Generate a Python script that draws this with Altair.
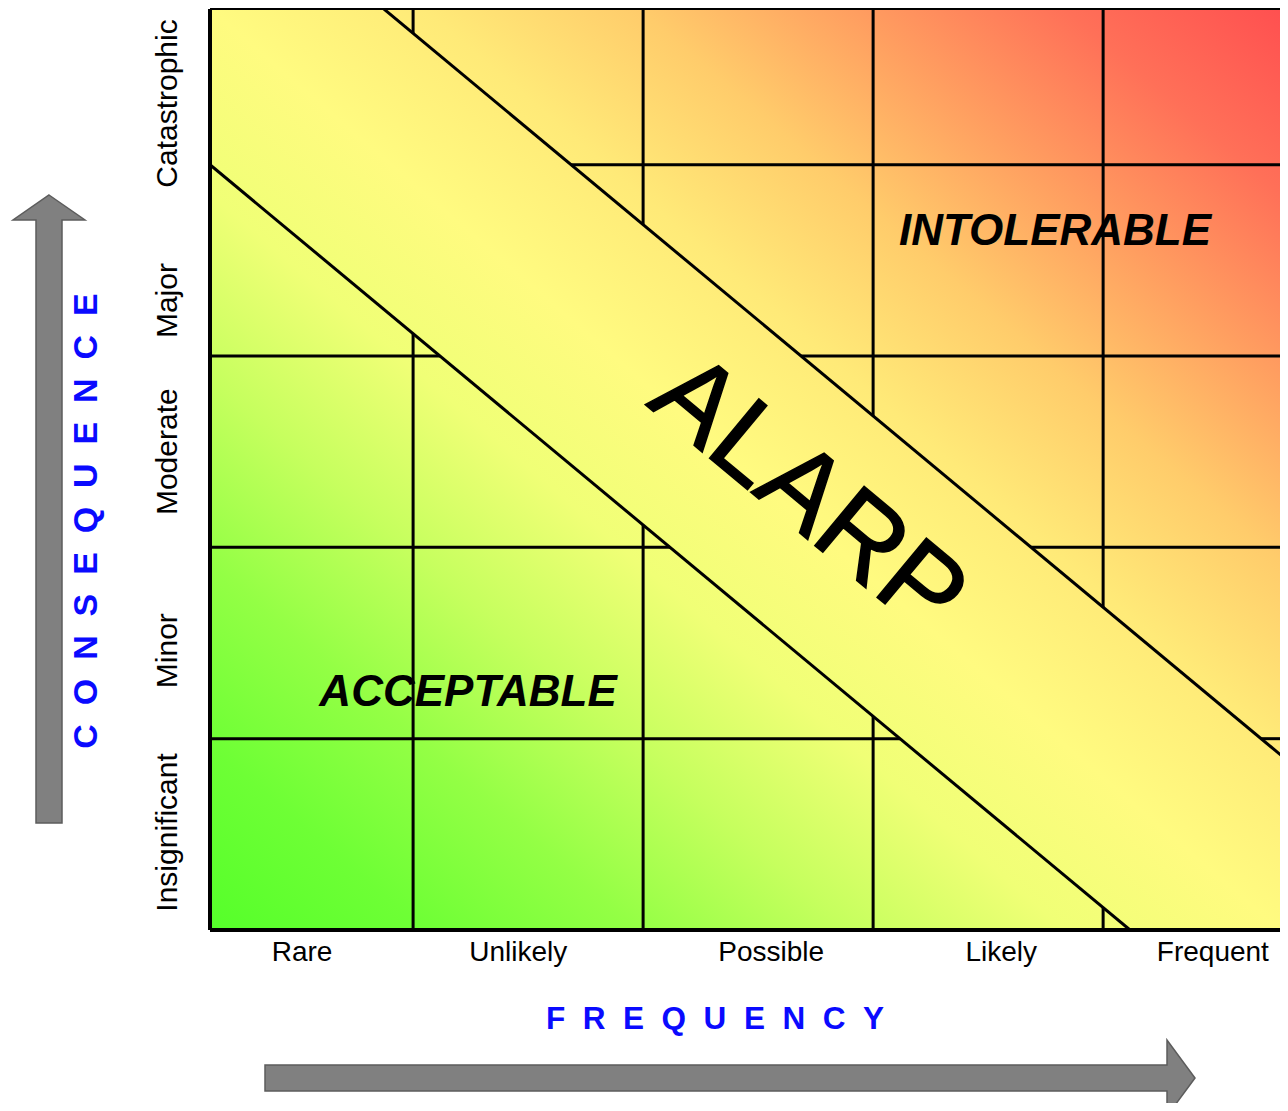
import altair as alt
import pandas as pd

# ---- data ----
frequency = ["Rare", "Unlikely", "Possible", "Likely", "Frequent"]
freq_label_pos = [0.40, 1.34, 2.44, 3.44, 4.36]
consequence = ["Insignificant", "Minor", "Moderate", "Major", "Catastrophic"]
cons_label_pos = [0.51, 1.46, 2.50, 3.29, 4.32]
col_lines = [0.883, 1.883, 2.883, 3.883]
row_lines = [1, 2, 3, 4]
x_max = 4.652
y_max = 4.814
band_lower = 4.0   # x + y = 4.0
band_upper = 5.57  # x + y = 5.57
zones = ["ACCEPTABLE", "INTOLERABLE"]
zone_x = [1.122, 3.674]
zone_y = [1.239, 3.649]
alarp_label = "ALARP"
alarp_x = [2.60]
alarp_y = [2.27]
grad_offsets = [0.0, 0.10, 0.20, 0.30, 0.40, 0.50, 0.60, 0.70, 0.80, 0.90, 1.0]
grad_colors = ["#55ff2a", "#6eff35", "#94ff45", "#c6ff5e", "#f0ff76", "#fffb80",
               "#ffea78", "#ffcc6b", "#ff9e60", "#ff7058", "#ff5050"]

FONT = "Liberation Sans"
xs = alt.Scale(domain=[0, x_max], nice=False, zero=False)
ys = alt.Scale(domain=[0, y_max], nice=False, zero=False)


def X(f):
    return alt.X(f, type="quantitative", scale=xs, axis=None)


def X2(f):
    return alt.X2(f)


def Y(f):
    return alt.Y(f, type="quantitative", scale=ys, axis=None)


# background gradient
bg_df = pd.DataFrame({"x": [0.0], "x2": [x_max], "y": [0.0], "y2": [y_max]})
bg = alt.Chart(bg_df).mark_rect(
    fill=alt.LinearGradient(
        gradient="linear", x1=0, y1=1, x2=1, y2=0,
        stops=[alt.GradientStop(offset=o, color=c) for o, c in zip(grad_offsets, grad_colors)],
    ),
    stroke=None,
).encode(x=X("x"), x2=X2("x2"), y=Y("y"), y2=alt.Y2("y2"))

# grid segments, interrupted by the ALARP band
segs = []
for c in col_lines:
    hi = band_lower - c
    if hi > 0:
        segs.append(dict(x=c, x2=c, y=0.0, y2=min(y_max, hi)))
    lo = band_upper - c
    if lo < y_max:
        segs.append(dict(x=c, x2=c, y=max(0.0, lo), y2=y_max))
for r in row_lines:
    hi = band_lower - r
    if hi > 0:
        segs.append(dict(x=0.0, x2=min(x_max, hi), y=r, y2=r))
    lo = band_upper - r
    if lo < x_max:
        segs.append(dict(x=max(0.0, lo), x2=x_max, y=r, y2=r))
grid = alt.Chart(pd.DataFrame(segs)).mark_rule(color="black", strokeWidth=3).encode(
    x=X("x"), x2=X2("x2"), y=Y("y"), y2=alt.Y2("y2")
)

# band edges
band_df = pd.DataFrame({
    "x": [0.0, 0.0], "y": [band_lower, band_upper],
    "x2": [band_lower, band_upper], "y2": [0.0, 0.0],
})
band = alt.Chart(band_df).mark_rule(color="black", strokeWidth=3, clip=True).encode(
    x=X("x"), x2=X2("x2"), y=Y("y"), y2=alt.Y2("y2")
)

# frame
frame_df = pd.DataFrame({
    "x": [0.0, 0.0, 0.0], "x2": [0.0, x_max, x_max],
    "y": [0.0, 0.0, y_max], "y2": [y_max, 0.0, y_max],
    "w": [4, 4, 2],
})
frame = alt.Chart(frame_df).mark_rule(color="black").encode(
    x=X("x"), x2=X2("x2"), y=Y("y"), y2=alt.Y2("y2"),
    strokeWidth=alt.StrokeWidth("w:Q", scale=None, legend=None),
)

# zone labels
zone_df = pd.DataFrame({"t": zones, "x": zone_x, "y": zone_y})
zone_txt = alt.Chart(zone_df).mark_text(
    font=FONT, fontSize=44, fontWeight="bold", fontStyle="italic",
    color="black", align="center", baseline="middle",
).encode(x=X("x"), y=Y("y"), text="t:N")

alarp_df = pd.DataFrame({"t": [alarp_label], "x": alarp_x, "y": alarp_y})
alarp_txt = alt.Chart(alarp_df).mark_text(
    font=FONT, fontSize=112, color="black", align="center", baseline="middle",
    angle=39.75, stroke="black", strokeWidth=1.5,
).encode(x=X("x"), y=Y("y"), text="t:N")

# axis labels
xl_df = pd.DataFrame({"t": frequency, "x": freq_label_pos})
xl = alt.Chart(xl_df).mark_text(
    font=FONT, fontSize=28, color="black", align="center", baseline="middle",
).encode(x=X("x"), y=alt.value(944), text="t:N")

yl_df = pd.DataFrame({"t": consequence, "y": cons_label_pos})
yl = alt.Chart(yl_df).mark_text(
    font=FONT, fontSize=30, color="black", align="center", baseline="middle", angle=270,
).encode(y=Y("y"), x=alt.value(-42), text="t:N")

# titles
sep = "\u00a0\u00a0"
ft = alt.Chart(pd.DataFrame({"t": [sep.join(list("FREQUENCY"))]})).mark_text(
    font=FONT, fontSize=31.5, fontWeight="bold", color="#0a0aff",
    align="center", baseline="middle",
).encode(x=alt.value(505), y=alt.value(1011), text="t:N")

ct = alt.Chart(pd.DataFrame({"t": [sep.join(list("CONSEQUENCE"))]})).mark_text(
    font=FONT, fontSize=34, fontWeight="bold", color="#0a0aff",
    align="center", baseline="middle", angle=270,
).encode(x=alt.value(-123), y=alt.value(512), text="t:N")

# arrows
up_path = ("M0,-1L0.1146,-0.9204L0.0414,-0.9204L0.0414,1L-0.0414,1"
           "L-0.0414,-0.9204L-0.1146,-0.9204Z")
right_path = ("M1,0L0.9398,0.0817L0.9398,0.028L-1,0.028L-1,-0.028"
              "L0.9398,-0.028L0.9398,-0.0817Z")
one = pd.DataFrame({"a": [1]})
up_arrow = alt.Chart(one).mark_point(
    shape=up_path, size=628 * 628, filled=True, fill="#808080",
    stroke="#5c5c5c", strokeWidth=1.5, opacity=1,
).encode(x=alt.value(-161), y=alt.value(500))
right_arrow = alt.Chart(one).mark_point(
    shape=right_path, size=930 * 930, filled=True, fill="#808080",
    stroke="#5c5c5c", strokeWidth=1.5, opacity=1,
).encode(x=alt.value(520), y=alt.value(1069))

chart = alt.layer(
    bg, grid, band, frame, zone_txt, alarp_txt, xl, yl, ft, ct, up_arrow, right_arrow
).properties(
    width=1070, height=921,
    autosize=alt.AutoSizeParams(type="none"),
    padding={"left": 202, "top": 1, "right": 0, "bottom": 173},
    background="white",
).configure_view(stroke=None)

chart.save("out.html", embed_options={"renderer": "svg", "actions": False})
